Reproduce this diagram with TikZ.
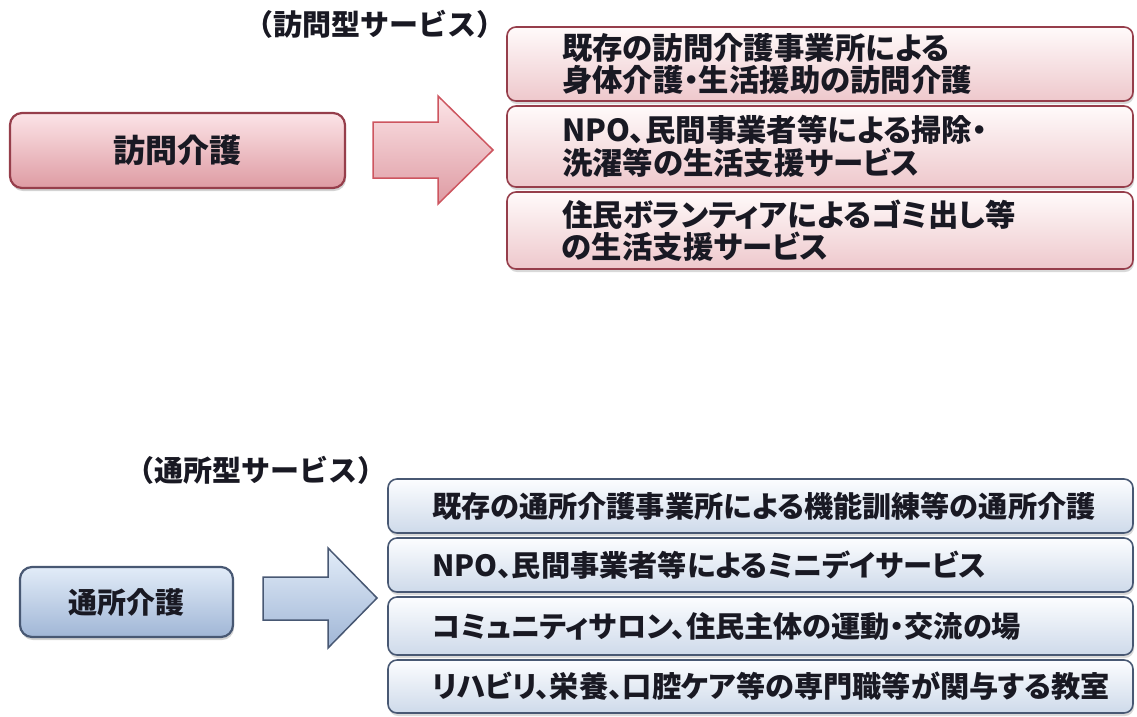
\documentclass[tikz,border=0pt]{standalone}
\usepackage{fontspec}
\setmainfont[RawFeature=+palt]{Noto Sans CJK JP}
\newfontfamily\lblfont{Noto Sans CJK JP}
\usetikzlibrary{shadows}
\definecolor{txt}{RGB}{25,25,35}
\definecolor{pinkline}{RGB}{150,62,75}
\definecolor{pinktop}{RGB}{255,250,250}
\definecolor{pinkmid}{RGB}{252,232,234}
\definecolor{pinkbot}{RGB}{238,200,204}
\definecolor{pinkmaintop}{RGB}{252,228,231}
\definecolor{pinkmainmid}{RGB}{242,192,198}
\definecolor{pinkmainbot}{RGB}{222,155,163}
\definecolor{pinkarrowline}{RGB}{205,85,95}
\definecolor{blueline}{RGB}{72,88,115}
\definecolor{bluetop}{RGB}{252,253,255}
\definecolor{bluemid}{RGB}{234,241,250}
\definecolor{bluebot}{RGB}{206,218,234}
\definecolor{bluemaintop}{RGB}{226,236,248}
\definecolor{bluemainmid}{RGB}{196,213,236}
\definecolor{bluemainbot}{RGB}{160,182,214}
\begin{document}
\begin{tikzpicture}[x=1pt,y=-1pt,
  lbl/.style={inner sep=0pt,text=txt,font=\lblfont\bfseries\fontsize{29}{32}\selectfont},
  mainbox/.style={draw,rounded corners=12pt,line width=2.2pt,text=txt,
    drop shadow={opacity=0.35,shadow xshift=1pt,shadow yshift=-3pt}},
  itembox/.style={draw,rounded corners=9pt,line width=1.6pt,text=txt,align=left,
    drop shadow={opacity=0.3,shadow xshift=1pt,shadow yshift=-3pt}},
  pinkmain/.style={mainbox,draw=pinkline,top color=pinkmaintop,middle color=pinkmainmid,bottom color=pinkmainbot},
  bluemain/.style={mainbox,draw=blueline,top color=bluemaintop,middle color=bluemainmid,bottom color=bluemainbot},
  pinkitem/.style={itembox,draw=pinkline,top color=pinktop,middle color=pinkmid,bottom color=pinkbot,
    inner xsep=55pt,text width=516pt,font=\bfseries\fontsize{30.4}{32.5}\selectfont},
  blueitem/.style={itembox,draw=blueline,top color=bluetop,middle color=bluemid,bottom color=bluebot,
    inner xsep=44pt,text width=657pt,font=\bfseries\fontsize{29.2}{32}\selectfont},
  pinkarrow/.style={draw=pinkarrowline,line width=1.5pt,line join=miter,top color=pinkmaintop,bottom color=pinkmainbot},
  bluearrow/.style={draw=blueline,line width=1.5pt,line join=miter,top color=bluemaintop,bottom color=bluemainbot}]
\useasboundingbox (0,0) rectangle (1137,716);
\node[lbl] (hlabel) at (375,24) {（訪問型サービス）};
\node[pinkmain,minimum width=335pt,minimum height=75pt,font=\bfseries\fontsize{32}{36}\selectfont] (houmon) at (177.5,150.5) {訪問介護};
\shadedraw[pinkarrow] (373,122) -- (438,122) -- (438,96) -- (493,150) -- (438,204) -- (438,178) -- (373,178) -- cycle;
\node[pinkitem,minimum height=74pt] (h1) at (820,64) {既存の訪問介護事業所による\\身体介護・生活援助の訪問介護};
\node[pinkitem,minimum height=81pt] (h2) at (820,146.5) {NPO、民間事業者等による掃除・\\洗濯等の生活支援サービス};
\node[pinkitem,minimum height=77pt] (h3) at (820,230.5) {住民ボランティアによるゴミ出し等\\の生活支援サービス};
\node[lbl] (tlabel) at (256,470) {（通所型サービス）};
\node[bluemain,minimum width=213pt,minimum height=70pt,font=\bfseries\fontsize{29}{33}\selectfont] (tsusho) at (126.5,602) {通所介護};
\shadedraw[bluearrow] (263,577) -- (328,577) -- (328,548) -- (377,598) -- (328,648) -- (328,620) -- (263,620) -- cycle;
\node[blueitem,minimum height=54pt] (t1) at (760.5,506) {既存の通所介護事業所による機能訓練等の通所介護};
\node[blueitem,minimum height=54pt] (t2) at (760.5,565) {NPO、民間事業者等によるミニデイサービス};
\node[blueitem,minimum height=58pt] (t3) at (760.5,626) {コミュニティサロン、住民主体の運動・交流の場};
\node[blueitem,minimum height=53pt] (t4) at (760.5,686.5) {リハビリ、栄養、口腔ケア等の専門職等が関与する教室};
\end{tikzpicture}
\end{document}
